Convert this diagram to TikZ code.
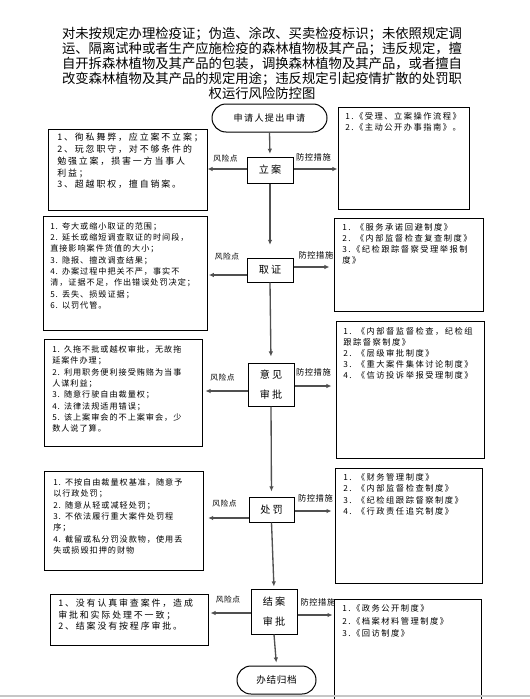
\documentclass[tikz,border=0pt]{standalone}
\usepackage{fontspec}
\setmainfont{Noto Sans CJK SC}
\newfontfamily\ttlfont{Noto Sans CJK SC}
\newfontfamily\lwfont[LetterSpace=21]{Noto Sans CJK SC}
\newfontfamily\lnfont[LetterSpace=12]{Noto Sans CJK SC}
\newfontfamily\rtfont[LetterSpace=18]{Noto Sans CJK SC}
\newfontfamily\stfont[LetterSpace=22]{Noto Sans CJK SC}
\newfontfamily\stbfont[LetterSpace=15]{Noto Sans CJK SC}
\newfontfamily\enfont[LetterSpace=7]{Noto Sans CJK SC}
\newfontfamily\lbfont[LetterSpace=6]{Noto Sans CJK SC}
\usetikzlibrary{arrows.meta,fit}
\definecolor{lc}{RGB}{80,80,80}
\setlength{\parindent}{0pt}
\begin{document}
\begin{tikzpicture}[x=0.75pt,y=-0.75pt,
  box/.style={draw=black,line width=0.75pt,inner sep=0pt},
  stepnode/.style={draw=black,line width=0.75pt,inner sep=0pt,align=center,
    font=\stfont\fontsize{7.6}{15}\selectfont},
  termnode/.style={draw=black,line width=0.75pt,inner sep=0pt,align=center,
    rounded corners=10.5pt},
  ltxt/.style={anchor=north west,inner sep=0pt,align=left,text width=150pt,
    font=\lnfont\fontsize{6.1}{8.5}\selectfont},
  lwtxt/.style={anchor=north west,inner sep=0pt,align=left,text width=150pt,
    font=\lwfont\fontsize{6.7}{8.8}\selectfont},
  rtxt/.style={anchor=north west,inner sep=0pt,align=left,text width=150pt,
    font=\rtfont\fontsize{6.2}{8.25}\selectfont},
  conn/.style={draw=lc,line width=1pt,-{Latex[length=3.8pt,width=3.4pt]}},
  risklab/.style={inner sep=0pt,font=\enfont\fontsize{5.8}{7}\selectfont},
  ctrllab/.style={inner sep=0pt,font=\lbfont\fontsize{6.2}{7}\selectfont}
]
\useasboundingbox (0,0) rectangle (530,699);
\fill[white] (0,0) rectangle (530,699);

% title
\node[inner sep=0pt,align=center,font=\ttlfont\fontsize{10}{11.25}\selectfont] (title) at (262,63)
 {对未按规定办理检疫证；伪造、涂改、买卖检疫标识；未依照规定调\\
  运、隔离试种或者生产应施检疫的森林植物极其产品；违反规定，擅\\
  自开拆森林植物及其产品的包装，调换森林植物及其产品，或者擅自\\
  改变森林植物及其产品的规定用途；违反规定引起疫情扩散的处罚职\\
  权运行风险防控图};

% main flow nodes
\node[termnode,minimum width=86.25pt,minimum height=21pt,
  font=\stbfont\fontsize{6.8}{8}\selectfont] (start) at (269.5,118) {申请人提出申请};
\node[stepnode,minimum width=34.5pt,minimum height=19.5pt] (lian) at (270,170) {立案};
\node[stepnode,minimum width=34.5pt,minimum height=18pt] (quzheng) at (270,270) {取证};
\node[stepnode,minimum width=34.5pt,minimum height=32.25pt] (yijian) at (271,384.5) {意见\\审批};
\node[stepnode,minimum width=33.75pt,minimum height=18.75pt] (chufa) at (271.5,509.5) {处罚};
\node[stepnode,minimum width=34.5pt,minimum height=33.75pt] (jiean) at (274,611.5) {结案\\审批};
\node[termnode,minimum width=59.25pt,minimum height=21pt,
  font=\enfont\fontsize{7.2}{8}\selectfont] (banjie) at (276.5,680) {办结归档};

% left boxes
\node[box,fit={(48,129) (207,210)}] (L1) {};
\node[box,fit={(43,216) (207,330)}] (L2) {};
\node[box,fit={(44,339) (202,446)}] (L3) {};
\node[box,fit={(44,471) (203,570)}] (L4) {};
\node[box,fit={(50,594) (208,645)}] (L5) {};
% right boxes
\node[box,fit={(338,107) (469,209)}] (R1) {};
\node[box,fit={(334,218) (483,311)}] (R2) {};
\node[box,fit={(336,321) (484,458)}] (R3) {};
\node[box,fit={(335,468) (482,583)}] (R4) {};
\node[box,fit={(334,599) (481,710)}] (R5) {};

% left texts
\node[lwtxt] (L1t) at (57,133) {1、徇私舞弊，应立案不立案；\\
2、玩忽职守，对不够条件的\\
勉强立案，损害一方当事人\\
利益；\\
3、超越职权，擅自销案。};
\node[ltxt] (L2t) at (50,222.2) {1.\hspace{3pt}夸大或缩小取证的范围；\\
2.\hspace{3pt}延长或缩短调查取证的时间段，\\
直接影响案件货值的大小；\\
3.\hspace{3pt}隐报、擅改调查结果；\\
4.\hspace{3pt}办案过程中把关不严，事实不\\
清，证据不足，作出错误处罚决定；\\
5.\hspace{3pt}丢失、损毁证据；\\
6.\hspace{3pt}以罚代管。};
\node[ltxt] (L3t) at (52,345.2) {1.\hspace{3pt}久拖不批或越权审批，无故拖\\
延案件办理；\\
2.\hspace{3pt}利用职务便利接受贿赂为当事\\
人谋利益；\\
3.\hspace{3pt}随意行驶自由裁量权；\\
4.\hspace{3pt}法律法规适用错误；\\
5.\hspace{3pt}该上案审会的不上案审会，少\\
数人说了算。};
\node[ltxt] (L4t) at (53,478.2) {1.\hspace{3pt}不按自由裁量权基准，随意予\\
以行政处罚；\\
2.\hspace{3pt}随意从轻或减轻处罚；\\
3.\hspace{3pt}不依法履行重大案件处罚程\\
序；\\
4.\hspace{3pt}截留或私分罚没款物，使用丢\\
失或损毁扣押的财物};
\node[lwtxt,font=\lwfont\fontsize{6.7}{8.4}\selectfont] (L5t) at (58,599) {1、没有认真审查案件，造成\\
审批和实际处理不一致；\\
2、结案没有按程序审批。};

% right texts
\node[rtxt] (R1t) at (345,112.3) {1.《受理、立案操作流程》\\
2.《主动公开办事指南》。};
\node[rtxt] (R2t) at (342,223.3) {1.\hspace{4pt}《服务承诺回避制度》\\
2.\hspace{4pt}《内部监督检查复查制度》\\
3.《纪检跟踪督察受理举报制\\
度》};
\node[rtxt] (R3t) at (343,327.3) {1.\hspace{4pt}《内部督监督检查，纪检组\\
跟踪督察制度》\\
2.\hspace{4pt}《层级审批制度》\\
3.\hspace{4pt}《重大案件集体讨论制度》\\
4.\hspace{4pt}《信访投诉举报受理制度》};
\node[rtxt,font=\rtfont\fontsize{6.2}{8.5}\selectfont] (R4t) at (343,473.3) {1.\hspace{4pt}《财务管理制度》\\
2.\hspace{4pt}《内部监督检查制度》\\
3.\hspace{4pt}《纪检组跟踪督察制度》\\
4.\hspace{4pt}《行政责任追究制度》};
\node[rtxt,font=\rtfont\fontsize{6.2}{9.4}\selectfont] (R5t) at (342,604.3) {1.《政务公开制度》\\
2.《档案材料管理制度》\\
3.《回访制度》};

% vertical connectors
\draw[conn,shorten >=2pt] (start.south) -- (lian.north);
\draw[conn,shorten >=9.5pt] (lian.south) -- (quzheng.north);
\draw[conn,shorten >=4.5pt] (quzheng.south) -- (yijian.north);
\draw[conn,shorten >=3.8pt] (yijian.south) -- (chufa.north);
\draw[conn,shorten >=1.5pt] (chufa.south) -- (jiean.north);
\draw[conn,shorten >=2.2pt] (jiean.south) -- (banjie.north);

% horizontal connectors
\draw[conn] (lian.west |- 0,169) -- (L1.east |- 0,169);
\draw[conn] (lian.east |- 0,169) -- (R1.west |- 0,169);
\draw[conn,shorten >=1pt] (quzheng.west |- 0,275) -- (L2.east |- 0,275);
\draw[conn,shorten >=3pt] (quzheng.east |- 0,267) -- (R2.west |- 0,267);
\draw[conn,shorten >=2.2pt] (yijian.west |- 0,391) -- (L3.east |- 0,391);
\draw[conn,shorten >=3pt] (yijian.east |- 0,386) -- (R3.west |- 0,386);
\draw[conn,shorten >=3.5pt] (chufa.west |- 0,518) -- (L4.east |- 0,518);
\draw[conn,shorten >=2.2pt] (chufa.east |- 0,511) -- (R4.west |- 0,511);
\draw[conn,shorten >=1.5pt] (jiean.west |- 0,613) -- (L5.east |- 0,613);
\draw[conn,shorten >=0.7pt] (jiean.east |- 0,615) -- (R5.west |- 0,615);

% labels
\node[risklab] (rl1) at (225.5,159) {风险点};
\node[risklab] (rl2) at (227,257) {风险点};
\node[risklab] (rl3) at (222.5,378) {风险点};
\node[risklab] (rl4) at (224.5,504) {风险点};
\node[risklab] (rl5) at (228,600) {风险点};
\node[ctrllab] (cl1) at (313.5,157) {防控措施};
\node[ctrllab] (cl2) at (316,255) {防控措施};
\node[ctrllab] (cl3) at (313.5,372) {防控措施};
\node[ctrllab] (cl4) at (315.5,498) {防控措施};
\node[ctrllab] (cl5) at (318,602) {防控措施};

% page edge line at bottom
\draw[gray!45,line width=1.5pt] (0,696) -- (530,696);
\end{tikzpicture}
\end{document}
